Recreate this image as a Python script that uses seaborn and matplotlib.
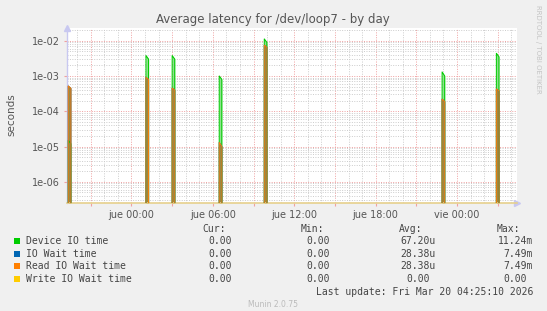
import numpy as np
import pandas as pd
import matplotlib
matplotlib.use("Agg")
import matplotlib.pyplot as plt
import seaborn as sns
from matplotlib.ticker import FixedLocator, FixedFormatter, MultipleLocator, NullFormatter
from matplotlib.patches import Rectangle

# ---------------- data ----------------
title = "Average latency for /dev/loop7 - by day"
y_label = "seconds"
series_names = ["Device IO time", "IO Wait time", "Read IO Wait time", "Write IO Wait time"]
series_colors = ["#00cc00", "#0066b3", "#ff8000", "#ffcc00"]

# time axis in hours relative to Thursday 00:00
x_start = -4.79
x_end = 28.42
spike_hours = [-4.66, 1.07, 3.00, 6.47, 9.79, 22.90, 26.90]
spike_width = 0.19  # hours between first and second non-zero sample

device_peak = [1.5e-05, 3.8e-03, 3.8e-03, 1.0e-03, 1.124e-02, 1.3e-03, 4.4e-03]
device_tail = [1.2e-05, 3.0e-03, 3.0e-03, 8.0e-04, 9.0e-03, 1.0e-03, 3.5e-03]
read_peak = [5.2e-04, 9.1e-04, 4.5e-04, 1.3e-05, 7.49e-03, 2.2e-04, 4.3e-04]
read_tail = [4.5e-04, 8.0e-04, 4.0e-04, 1.0e-05, 6.5e-03, 1.9e-04, 3.8e-04]
write_peak = [0.0, 0.0, 0.0, 0.0, 0.0, 0.0, 0.0]

x_tick_hours = [0, 6, 12, 18, 24]
x_tick_labels = ["jue 00:00", "jue 06:00", "jue 12:00", "jue 18:00", "vie 00:00"]
y_ticks = [1e-06, 1e-05, 1e-04, 1e-03, 1e-02]
y_tick_labels = ["1e-06", "1e-05", "1e-04", "1e-03", "1e-02"]

legend_cur = ["0.00", "0.00", "0.00", "0.00"]
legend_min = ["0.00", "0.00", "0.00", "0.00"]
legend_avg = ["67.20u", "28.38u", "28.38u", "0.00"]
legend_max = ["11.24m", "7.49m", "7.49m", "0.00"]
last_update = "Last update: Fri Mar 20 04:25:10 2026"
munin_version = "Munin 2.0.75"
rrd_credit = "RRDTOOL / TOBI OETIKER"

# ---------------- build long table ----------------
def build(name, peaks, tails):
    t, v = [x_start], [0.0]
    for h, p, tl in zip(spike_hours, peaks, tails):
        t += [h - 0.01, h, h + spike_width, h + spike_width + 0.01]
        v += [0.0, p, tl, 0.0]
    t.append(x_end)
    v.append(0.0)
    return pd.DataFrame({"hour": t, "value": v, "series": name})

df = pd.concat([
    build(series_names[0], device_peak, device_tail),
    build(series_names[1], read_peak, read_tail),
    build(series_names[2], read_peak, read_tail),
    build(series_names[3], write_peak, write_peak),
], ignore_index=True)

# ---------------- figure ----------------
W, H = 547, 311
fig = plt.figure(figsize=(W / 100, H / 100), dpi=100, facecolor="#f0f0f0")
ax_l, ax_r, ax_t, ax_b = 66.5, 517, 27.5, 203
ax = fig.add_axes([ax_l / W, 1 - ax_b / H, (ax_r - ax_l) / W, (ax_b - ax_t) / H])
ax.set_facecolor("white")

y_floor = 1e-9
# translucent body of each spike (blend of the overlapping lines)
for name, fill_col in [(series_names[0], "#8ee08e"), (series_names[2], "#9a8a44")]:
    sub = df[df["series"] == name]
    for h in spike_hours:
        seg = sub[(sub["hour"] >= h) & (sub["hour"] <= h + spike_width)]
        ax.fill_between(seg["hour"], y_floor, seg["value"], color=fill_col, linewidth=0, zorder=2)

sns.lineplot(data=df, x="hour", y="value", hue="series", hue_order=series_names,
             palette=series_colors, estimator=None, sort=False, linewidth=0.75,
             legend=False, ax=ax, zorder=3)

ax.set_yscale("log")
ax.set_xlim(x_start, x_end)
ax.set_ylim(2.5e-07, 2.37e-02)

# x ticks / grid
major_x = np.arange(-3, 28, 3)
ax.xaxis.set_major_locator(FixedLocator(major_x))
lab_map = dict(zip(x_tick_hours, x_tick_labels))
ax.xaxis.set_major_formatter(FixedFormatter([lab_map.get(int(h), "") for h in major_x]))
ax.xaxis.set_minor_locator(MultipleLocator(1))
ax.xaxis.set_minor_formatter(NullFormatter())

# y ticks / grid
ax.yaxis.set_major_locator(FixedLocator(y_ticks))
ax.yaxis.set_major_formatter(FixedFormatter(y_tick_labels))
minor_y = [m * 10.0 ** e for e in range(-7, -1) for m in range(2, 10)]
ax.yaxis.set_minor_locator(FixedLocator(minor_y))
ax.yaxis.set_minor_formatter(NullFormatter())

ax.grid(which="minor", color="#cccccc", linestyle=(0, (1, 1.5)), linewidth=0.7)
ax.grid(which="major", color="#f0a0a0", linestyle=(0, (1, 1.5)), linewidth=0.7)
ax.set_axisbelow(True)

ax.tick_params(axis="both", which="major", length=2, width=0.8, color="#f0a0a0",
               labelsize=7, labelcolor="#555555", pad=3)
ax.tick_params(axis="both", which="minor", length=0)
ax.set_xlabel("")
ax.set_ylabel("")

for s in ["top", "right"]:
    ax.spines[s].set_visible(False)
ax.spines["left"].set_color("#c8c8f0")
ax.spines["left"].set_linewidth(1.0)
ax.spines["bottom"].set_color("#e6d08c")
ax.spines["bottom"].set_linewidth(1.2)

# axis arrows
ax.plot([0], [1.0], marker="^", color="#c8c8f0", markersize=4, transform=ax.transAxes, clip_on=False)
ax.plot([1.0], [0], marker=">", color="#c8c8f0", markersize=4, transform=ax.transAxes, clip_on=False)

def fx(px):
    return px / W

def fy(py):
    return 1 - py / H

fig.text(fx(273), fy(19), title, ha="center", va="center", fontsize=8.5, color="#555555")
fig.text(fx(11), fy(115), y_label, ha="center", va="center", rotation=90, fontsize=7.5, color="#555555")
fig.text(fx(538), fy(5), rrd_credit, ha="center", va="top", rotation=270, fontsize=5, color="#c4c4c4")

mono = "DejaVu Sans Mono"
fs = 7
tc = "#444444"
cw = 5.93
col_end = [238, 335.5, 436, 533]
headers = ["Cur:", "Min:", "Avg:", "Max:"]
header_right = [226, 324, 422, 520]
for h, xr in zip(headers, header_right):
    fig.text(fx(xr), fy(229), h, ha="right", va="center", family=mono, fontsize=fs, color=tc)

row_y = [241, 254, 266, 279]
cols = [legend_cur, legend_min, legend_avg, legend_max]
for i, (name, color) in enumerate(zip(series_names, series_colors)):
    y = row_y[i]
    fig.patches.append(Rectangle((fx(14), fy(y + 3)), 6 / W, 6 / H, transform=fig.transFigure,
                                 facecolor=color, edgecolor="none"))
    fig.text(fx(26), fy(y), name, ha="left", va="center", family=mono, fontsize=fs, color=tc)
    for c, end in zip(cols, col_end):
        val = c[i]
        if val[-1].isalpha():
            fig.text(fx(end), fy(y), val, ha="right", va="center", family=mono, fontsize=fs, color=tc)
        else:
            fig.text(fx(end - cw), fy(y), val, ha="right", va="center", family=mono, fontsize=fs, color=tc)

fig.text(fx(533), fy(292), last_update, ha="right", va="center", family=mono, fontsize=fs, color=tc)
fig.text(fx(273), fy(304.5), munin_version, ha="center", va="center", fontsize=5.5, color="#bbbbbb")

fig.savefig("out.png", dpi=100, facecolor=fig.get_facecolor())
